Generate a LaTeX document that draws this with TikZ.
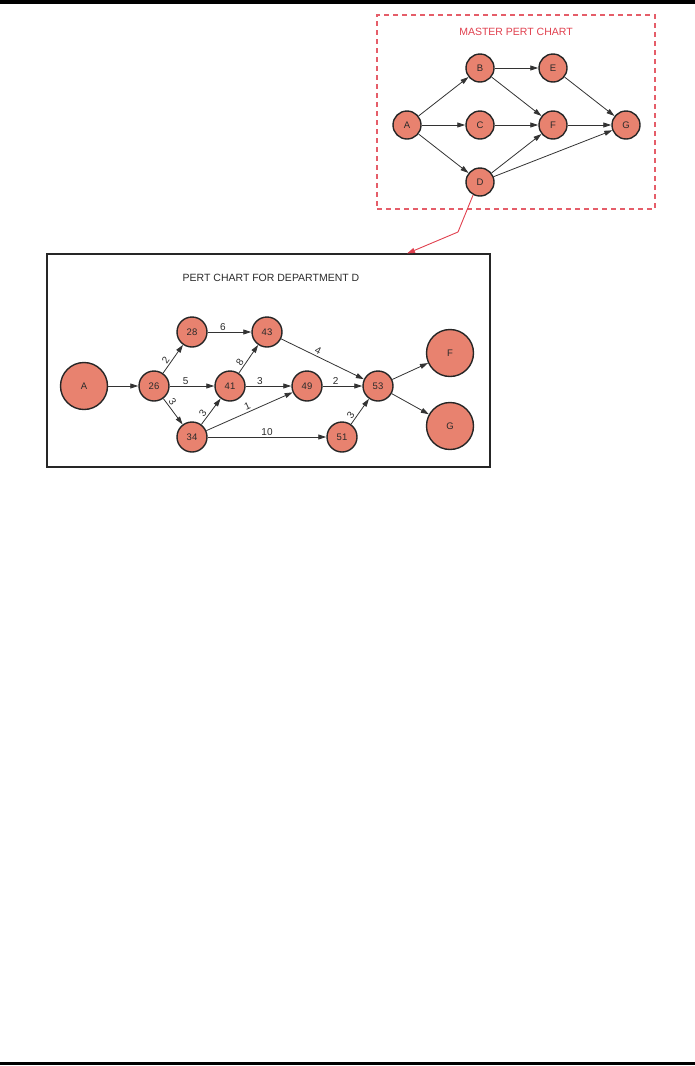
\documentclass[tikz,border=0pt]{standalone}
\usepackage{fontspec}
\setmainfont{Liberation Sans}
\usepackage{xcolor}
\definecolor{cNode}{HTML}{E8826F}
\definecolor{cRed}{HTML}{E0404E}
\definecolor{cLine}{HTML}{333333}
\definecolor{cText}{HTML}{2A2A2A}
\usetikzlibrary{positioning,arrows.meta,calc}
\tikzset{
  node-pert/.style={draw=black!85,line width=1.4pt,circle,fill=cNode,
    inner sep=0pt,text=cText,font=\fontsize{9.5}{11}\selectfont},
  node-master/.style={node-pert,minimum size=28pt},
  node-dept/.style={node-pert,minimum size=30pt},
  node-big/.style={node-pert,minimum size=47pt},
  box-master/.style={draw=cRed!85,line width=1.3pt,dash pattern=on 5pt off 4pt,
    minimum width=278pt,minimum height=194pt},
  box-dept/.style={draw=black!85,line width=1.6pt,
    minimum width=443pt,minimum height=213pt},
  chart-title/.style={font=\fontsize{10.5}{12}\selectfont},
  arrow/.style={-{Triangle[length=8pt,width=5pt]},line width=0.8pt,draw=cLine},
  arrow-red/.style={-{Triangle[length=8pt,width=5pt]},line width=0.9pt,draw=cRed},
  lbl/.style={font=\fontsize{10}{11}\selectfont,text=cText,inner sep=1.5pt},
}

\begin{document}
\begin{tikzpicture}[x=1pt,y=-1pt,node distance=57pt and 73pt,on grid]
  \useasboundingbox (0,0) rectangle (695,1066);
  % page rules
  \draw[line width=3.5pt] (0,1.75) -- (695,1.75);
  \draw[line width=3.5pt] (0,1063.3) -- (695,1063.3);

  % master chart
  \node[box-master] (mbox) at (516,112) {};
  \node[chart-title,text=cRed] (mtitle) at (516,32) {MASTER PERT CHART};
  \node[node-master] (mA) at (407,125) {A};
  \node[node-master,above right=of mA] (mB) {B};
  \node[node-master,right=of mA] (mC) {C};
  \node[node-master,below right=of mA] (mD) {D};
  \node[node-master,right=of mB] (mE) {E};
  \node[node-master,right=of mC] (mF) {F};
  \node[node-master,right=of mF] (mG) {G};
  \foreach \a/\b in {mA/mB,mA/mC,mA/mD,mB/mE,mB/mF,mC/mF,mE/mG,mF/mG,mD/mF,mD/mG}
    \draw[arrow] (\a) -- (\b);

  % department D chart
  \node[box-dept] (dbox) at (268.5,360.5) {};
  \node[chart-title,text=cText] (dtitle) at (271,278) {PERT CHART FOR DEPARTMENT D};
  \node[node-big] (dA) at (84,386) {A};
  \node[node-dept,right=70pt of dA] (d26) {26};
  \node[node-dept,above right=54pt and 38pt of d26] (d28) {28};
  \node[node-dept,right=76pt of d26] (d41) {41};
  \node[node-dept,below right=51pt and 38pt of d26] (d34) {34};
  \node[node-dept,right=75pt of d28] (d43) {43};
  \node[node-dept,right=77pt of d41] (d49) {49};
  \node[node-dept,right=71pt of d49] (d53) {53};
  \node[node-dept,right=150pt of d34] (d51) {51};
  \node[node-big,above right=33pt and 72pt of d53] (dF) {F};
  \node[node-big,below right=40pt and 72pt of d53] (dG) {G};

  \draw[arrow] (dA) -- (d26);
  \draw[arrow] (d26) -- node[lbl,above,sloped,pos=0.35]{2} (d28);
  \draw[arrow] (d26) -- node[lbl,above,pos=0.36]{5} (d41);
  \draw[arrow] (d26) -- node[lbl,above,sloped,pos=0.25]{3} (d34);
  \draw[arrow] (d28) -- node[lbl,above,pos=0.35]{6} (d43);
  \draw[arrow] (d34) -- node[lbl,above,sloped,pos=0.3]{3} (d41);
  \draw[arrow] (d41) -- node[lbl,above,sloped,pos=0.28]{8} (d43);
  \draw[arrow] (d41) -- node[lbl,above,pos=0.31]{3} (d49);
  \draw[arrow] (d34) -- node[lbl,above,sloped,pos=0.5]{1} (d49);
  \draw[arrow] (d34) -- node[lbl,above,pos=0.5]{10} (d51);
  \draw[arrow] (d43) -- node[lbl,above,sloped,pos=0.42]{4} (d53);
  \draw[arrow] (d49) -- node[lbl,above,pos=0.33]{2} (d53);
  \draw[arrow] (d51) -- node[lbl,above,sloped,pos=0.22]{3} (d53);
  \draw[arrow] (d53) -- (dF);
  \draw[arrow] (d53) -- (dG);

  % link from D to its chart
  \coordinate (kink) at (458,232);
  \coordinate (dtarget) at (407,253.5);
  \draw[arrow-red] (mD.-118) -- (kink) -- (dtarget);
\end{tikzpicture}
\end{document}
